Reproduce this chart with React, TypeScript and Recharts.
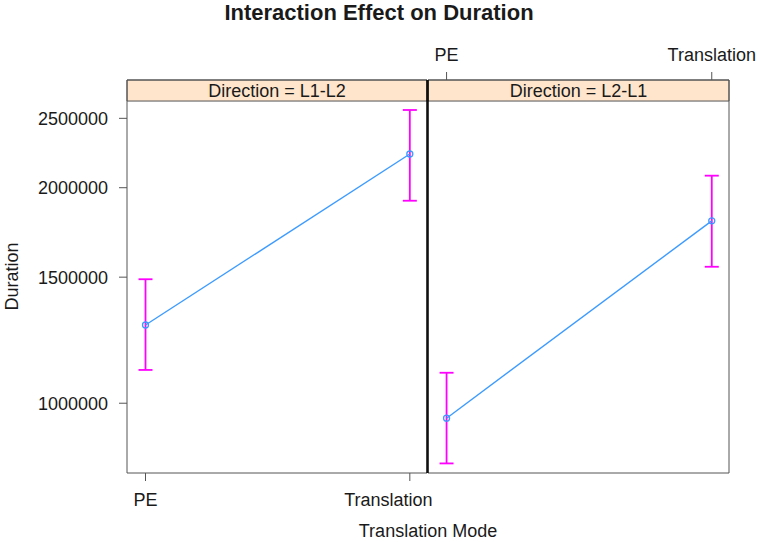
import { LineChart, Line, XAxis, YAxis, ErrorBar, ReferenceArea } from "recharts";

const modes = ["PE", "Translation"];
const directions = ["L1-L2", "L2-L1"];

// fitted duration and 95% CI per direction
const l1l2Fit = [1286000, 2229000];
const l1l2Lower = [1113000, 1918000];
const l1l2Upper = [1490000, 2568000];
const l2l1Fit = [953000, 1798000];
const l2l1Lower = [824000, 1551000];
const l2l1Upper = [1103000, 2079000];

const durationTicks = [1000000, 1500000, 2000000, 2500000];

const FONT = '"Liberation Sans", Arial, sans-serif';
const BORDER = "#555";
const LINE = "#3d9bff";
const CI = "#ff00ff";
const STRIP = "#ffe5cc";

// y range covers panel + strip; strip sits between panelTop and the domain top
const yDomain = [799000, 2828000];
const panelTop = 2643000;
const xDomain = [0.93, 2.065];

function buildRows(fit: number[], lower: number[], upper: number[]) {
  return modes.map((m, i) => ({
    x: i + 1,
    mode: m,
    fit: fit[i],
    err: [fit[i] - lower[i], upper[i] - fit[i]],
  }));
}

const modeLabel = (v: number) => modes[v - 1] ?? "";
const tickStyle = { fontSize: 18, fill: "#1a1a1a", fontFamily: FONT };

interface PanelProps {
  rows: ReturnType<typeof buildRows>;
  direction: string;
  left: number;
  width: number;
  first: boolean;
}

function Panel({ rows, direction, left, width, first }: PanelProps) {
  return (
    <div style={{ position: "absolute", left, top: 0 }}>
      <LineChart
        width={width}
        height={542}
        data={rows}
        margin={{ top: 50, right: 0, bottom: 39, left: 0 }}
      >
        <XAxis
          xAxisId="bottom"
          dataKey="x"
          type="number"
          domain={xDomain}
          allowDataOverflow
          ticks={[1, 2]}
          tickFormatter={modeLabel}
          tick={first ? tickStyle : false}
          tickSize={8}
          tickMargin={12}
          height={30}
          axisLine={{ stroke: BORDER }}
          tickLine={{ stroke: BORDER }}
        />
        <XAxis
          xAxisId="top"
          orientation="top"
          dataKey="x"
          type="number"
          domain={xDomain}
          allowDataOverflow
          ticks={[1, 2]}
          tickFormatter={modeLabel}
          tick={first ? false : tickStyle}
          tickSize={8}
          tickMargin={11}
          height={30}
          axisLine={{ stroke: BORDER }}
          tickLine={{ stroke: BORDER }}
        />
        <YAxis
          yAxisId="left"
          scale="log"
          domain={yDomain}
          allowDataOverflow
          ticks={durationTicks}
          tick={first ? tickStyle : false}
          tickLine={first ? { stroke: BORDER } : false}
          tickSize={8}
          tickMargin={11}
          width={first ? 127 : 2}
          axisLine={{ stroke: first ? BORDER : "#000", strokeWidth: first ? 1 : 1.5 }}
          label={
            first
              ? {
                  value: "Duration",
                  angle: -90,
                  position: "insideLeft",
                  offset: 12,
                  style: { textAnchor: "middle", fontSize: 18, fill: "#1a1a1a", fontFamily: FONT },
                }
              : undefined
          }
        />
        <YAxis
          yAxisId="right"
          orientation="right"
          scale="log"
          domain={yDomain}
          allowDataOverflow
          ticks={durationTicks}
          tick={false}
          tickLine={first ? false : { stroke: BORDER }}
          tickSize={8}
          width={first ? 2 : 29}
          axisLine={{ stroke: first ? "#000" : BORDER, strokeWidth: first ? 1.5 : 1 }}
        />
        <ReferenceArea
          xAxisId="bottom"
          yAxisId="left"
          y1={panelTop}
          y2={yDomain[1]}
          fill={STRIP}
          fillOpacity={1}
          stroke={BORDER}
          label={{
            value: `Direction = ${direction}`,
            position: "center",
            fontSize: 18,
            fill: "#1a1a1a",
            fontFamily: FONT,
          }}
        />
        <Line
          xAxisId="bottom"
          yAxisId="left"
          dataKey="fit"
          stroke={LINE}
          strokeWidth={1.4}
          dot={{ r: 3, stroke: LINE, fill: "none", strokeWidth: 1.3 }}
          isAnimationActive={false}
        >
          <ErrorBar dataKey="err" direction="y" width={7} stroke={CI} strokeWidth={1.8} isAnimationActive={false} />
        </Line>
      </LineChart>
    </div>
  );
}

export default function App() {
  return (
    <div
      style={{
        position: "absolute",
        left: 0,
        top: 0,
        width: 758,
        height: 542,
        background: "#fff",
        fontFamily: FONT,
        color: "#1a1a1a",
      }}
    >
      <style>{`.recharts-surface, .recharts-wrapper { overflow: visible !important; }`}</style>
      <div
        style={{
          position: "absolute",
          top: 2,
          left: 0,
          width: 758,
          textAlign: "center",
          fontSize: 22,
          lineHeight: "22px",
          fontWeight: "bold",
        }}
      >
        Interaction Effect on Duration
      </div>
      <Panel rows={buildRows(l1l2Fit, l1l2Lower, l1l2Upper)} direction={directions[0]} left={0} width={429} first />
      <Panel rows={buildRows(l2l1Fit, l2l1Lower, l2l1Upper)} direction={directions[1]} left={426} width={332} first={false} />
      <div
        style={{
          position: "absolute",
          top: 522,
          left: 128,
          width: 600,
          textAlign: "center",
          fontSize: 18,
          lineHeight: "18px",
        }}
      >
        Translation Mode
      </div>
    </div>
  );
}
